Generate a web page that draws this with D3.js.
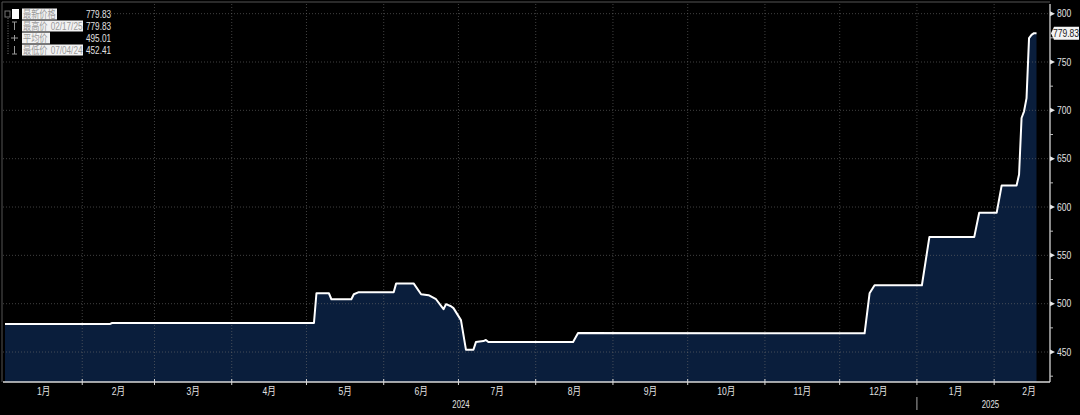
<!DOCTYPE html>
<html>
<head>
<meta charset="utf-8">
<script src="https://cdn.jsdelivr.net/npm/d3@7"></script>
<style>
body { margin: 0; background: #000; }
svg { display: block; }
text { font-family: "Liberation Sans Narrow", "Liberation Sans", "Noto Sans CJK SC", sans-serif; }
</style>
</head>
<body>
<svg width="1080" height="415"></svg>
<script>
// price series
const dates = ["2024-01-01","2024-02-12","2024-02-13","2024-05-04","2024-05-05","2024-05-10","2024-05-11",
  "2024-05-19","2024-05-20","2024-05-22","2024-06-05","2024-06-06","2024-06-13","2024-06-16","2024-06-19",
  "2024-06-22","2024-06-25","2024-06-26","2024-06-28","2024-06-29","2024-07-02","2024-07-04","2024-07-07",
  "2024-07-08","2024-07-11","2024-07-12","2024-07-13","2024-08-16","2024-08-18","2024-12-11","2024-12-13",
  "2024-12-15","2025-01-03","2025-01-06","2025-01-24","2025-01-26","2025-02-02","2025-02-04","2025-02-10",
  "2025-02-11","2025-02-12","2025-02-13","2025-02-14","2025-02-15","2025-02-16","2025-02-17","2025-02-18"];
const prices = [478.9,478.9,480,480,510.8,510.8,504.6,
  504.6,509.8,511.9,511.9,521,521,509.8,508.8,
  504.6,494.3,499.5,497.4,495.4,483,452.41,452.41,
  460.3,461.3,462.4,460.3,460.3,469.6,469.3,510.8,
  519.1,519.1,568.9,568.9,594,594,622.2,622.2,
  633.6,692.1,699,712.7,774.6,778,779.83,779.83];

const yTicks = [450,500,550,600,650,700,750,800];
const yMinor = [425,475,525,575,625,675,725,775];
const monthLabels = ["1月","2月","3月","4月","5月","6月","7月","8月","9月","10月","11月","12月"];
const yearLabels = ["2024","2025"];

const legendLabels = ["最新价格","最高价","平均价","最低价"];
const legendDates = ["","02/17/25","","07/04/24"];
const legendValues = ["779.83","779.83","495.01","452.41"];
const lastLabel = "779.83";

const parse = d3.timeParse("%Y-%m-%d");
const data = dates.map((d,i) => ({date: parse(d), value: prices[i]}));

const svg = d3.select("svg");
const W = 1080, H = 415;
const pLeft = 3, pRight = 1050, pTop = 4, pBottom = 382;
const SX = 0.78; // horizontal squeeze, the source font is a narrow one

const x = d3.scaleTime()
  .domain([parse("2024-01-01"), parse("2025-02-19")])
  .range([5, 1039]);
const y = d3.scaleLinear().domain([419, 810]).range([pBottom, pTop]);

// narrow text helper
function ntext(g, tx, ty, str, size, fill, anchor) {
  return g.append("text")
    .attr("transform", `translate(${tx},${ty}) scale(${SX},1)`)
    .attr("text-anchor", anchor || "start")
    .attr("font-size", size).attr("fill", fill)
    .text(str);
}

svg.append("rect").attr("width", W).attr("height", H).attr("fill", "#000");

// area + line
const area = d3.area().x(d => x(d.date)).y0(pBottom).y1(d => y(d.value));
const line = d3.line().x(d => x(d.date)).y(d => y(d.value));

svg.append("path").datum(data).attr("d", area).attr("fill", "#0a1e3c");

// gridlines
const months = d3.timeMonth.range(parse("2024-02-01"), parse("2025-02-02"));
const grid = svg.append("g");
grid.selectAll("line.v").data(months).enter().append("line")
  .attr("x1", d => x(d)).attr("x2", d => x(d))
  .attr("y1", pTop).attr("y2", pBottom)
  .attr("stroke", "#6a6a6a").attr("stroke-opacity", 0.6)
  .attr("stroke-dasharray", "1,2");
grid.selectAll("line.h").data(yTicks).enter().append("line")
  .attr("x1", pLeft).attr("x2", pRight)
  .attr("y1", d => y(d)).attr("y2", d => y(d))
  .attr("stroke", "#6a6a6a").attr("stroke-opacity", 0.6)
  .attr("stroke-dasharray", "1,2");

svg.append("path").datum(data).attr("d", line)
  .attr("fill", "none").attr("stroke", "#fff").attr("stroke-width", 2)
  .attr("stroke-linejoin", "round");

// frame
svg.append("line").attr("x1", 2).attr("x2", 2).attr("y1", 2).attr("y2", pBottom)
  .attr("stroke", "#555");
svg.append("line").attr("x1", 2).attr("x2", pRight).attr("y1", 2).attr("y2", 2)
  .attr("stroke", "#555");

// right axis
const ax = svg.append("g");
ax.append("line").attr("x1", pRight).attr("x2", pRight).attr("y1", pTop).attr("y2", pBottom)
  .attr("stroke", "#e6e6e6").attr("stroke-width", 1.2);
ax.selectAll("path.tk").data(yTicks).enter().append("path")
  .attr("d", d => `M${pRight},${y(d)-2.5}L${pRight+5},${y(d)}L${pRight},${y(d)+2.5}Z`)
  .attr("fill", "#e6e6e6");
ax.selectAll("line.mn").data(yMinor).enter().append("line")
  .attr("x1", pRight).attr("x2", pRight + 3)
  .attr("y1", d => y(d)).attr("y2", d => y(d))
  .attr("stroke", "#bbb");
yTicks.forEach(v => ntext(ax, pRight + 7, y(v) + 3.8, v, 11, "#e0e0e0"));

// last price tag
const ly = y(prices[prices.length - 1]);
svg.append("path")
  .attr("d", `M${pRight+1},${ly}L${pRight+4},${ly-6.5}H1079V${ly+6.5}H${pRight+4}Z`)
  .attr("fill", "#f4f4f4");
ntext(svg, 1066, ly + 3.8, lastLabel, 11, "#222", "middle");

// bottom axis
const bx = svg.append("g");
bx.append("line").attr("x1", pLeft).attr("x2", pRight).attr("y1", pBottom).attr("y2", pBottom)
  .attr("stroke", "#d8d8d8").attr("stroke-width", 1.5);
bx.selectAll("line.t").data(months).enter().append("line")
  .attr("x1", d => x(d)).attr("x2", d => x(d))
  .attr("y1", pBottom - 3).attr("y2", pBottom + 3)
  .attr("stroke", "#d8d8d8");
const labelMonths = d3.timeMonth.range(parse("2024-01-01"), parse("2025-02-02"));
labelMonths.forEach(d => {
  const mx = (x(d) + x(d3.timeMonth.offset(d, 1))) / 2;
  ntext(bx, mx, pBottom + 13, monthLabels[d.getMonth()], 11, "#e0e0e0", "middle");
});
const yearStarts = [parse("2024-01-01"), parse("2025-01-01")];
const yearEnds = [parse("2025-01-01"), parse("2025-03-01")];
yearLabels.forEach((t, i) => {
  ntext(bx, (x(yearStarts[i]) + x(yearEnds[i])) / 2, pBottom + 25.5, t, 10, "#e0e0e0", "middle");
});
bx.append("line")
  .attr("x1", x(yearStarts[1])).attr("x2", x(yearStarts[1]))
  .attr("y1", pBottom + 15).attr("y2", pBottom + 28)
  .attr("stroke", "#aaa");

// legend
const lg = svg.append("g");
lg.append("rect").attr("x", 3).attr("y", 3).attr("width", 108).attr("height", 54).attr("fill", "#000");
const rowY = [14, 26, 38, 50];
const boxW = [35, 61, 28, 61];
lg.selectAll("rect.b").data(legendLabels).enter().append("rect")
  .attr("x", 22).attr("y", (d, i) => rowY[i] - 5.5)
  .attr("width", (d, i) => boxW[i]).attr("height", 11)
  .attr("fill", "#f2f2f2");
legendLabels.forEach((t, i) => {
  ntext(lg, 23, rowY[i] + 4, t, 10.5, "#9a9a9a");
  if (legendDates[i]) ntext(lg, 82.5, rowY[i] + 4, legendDates[i], 10.5, "#9a9a9a", "end");
  ntext(lg, 86, rowY[i] + 4, legendValues[i], 10.5, "#e0e0e0");
});
// legend markers
lg.append("line").attr("x1", 8).attr("x2", 8).attr("y1", rowY[0] + 4).attr("y2", rowY[3] + 4)
  .attr("stroke", "#777").attr("stroke-dasharray", "1,1.5");
lg.append("rect").attr("x", 5).attr("y", rowY[0] - 3).attr("width", 5).attr("height", 6)
  .attr("fill", "none").attr("stroke", "#777");
lg.append("rect").attr("x", 12).attr("y", rowY[0] - 5).attr("width", 7).attr("height", 10)
  .attr("fill", "#fff");
lg.append("path").attr("d", `M12,${rowY[1]-4}H17M14.5,${rowY[1]-4}V${rowY[1]+4}`)
  .attr("stroke", "#999").attr("fill", "none");
lg.append("path").attr("d", `M11,${rowY[2]}H18M14.5,${rowY[2]-3}V${rowY[2]+3}`)
  .attr("stroke", "#999").attr("fill", "none");
lg.append("path").attr("d", `M12,${rowY[3]+4}H17M14.5,${rowY[3]-4}V${rowY[3]+4}`)
  .attr("stroke", "#999").attr("fill", "none");
</script>
</body>
</html>
